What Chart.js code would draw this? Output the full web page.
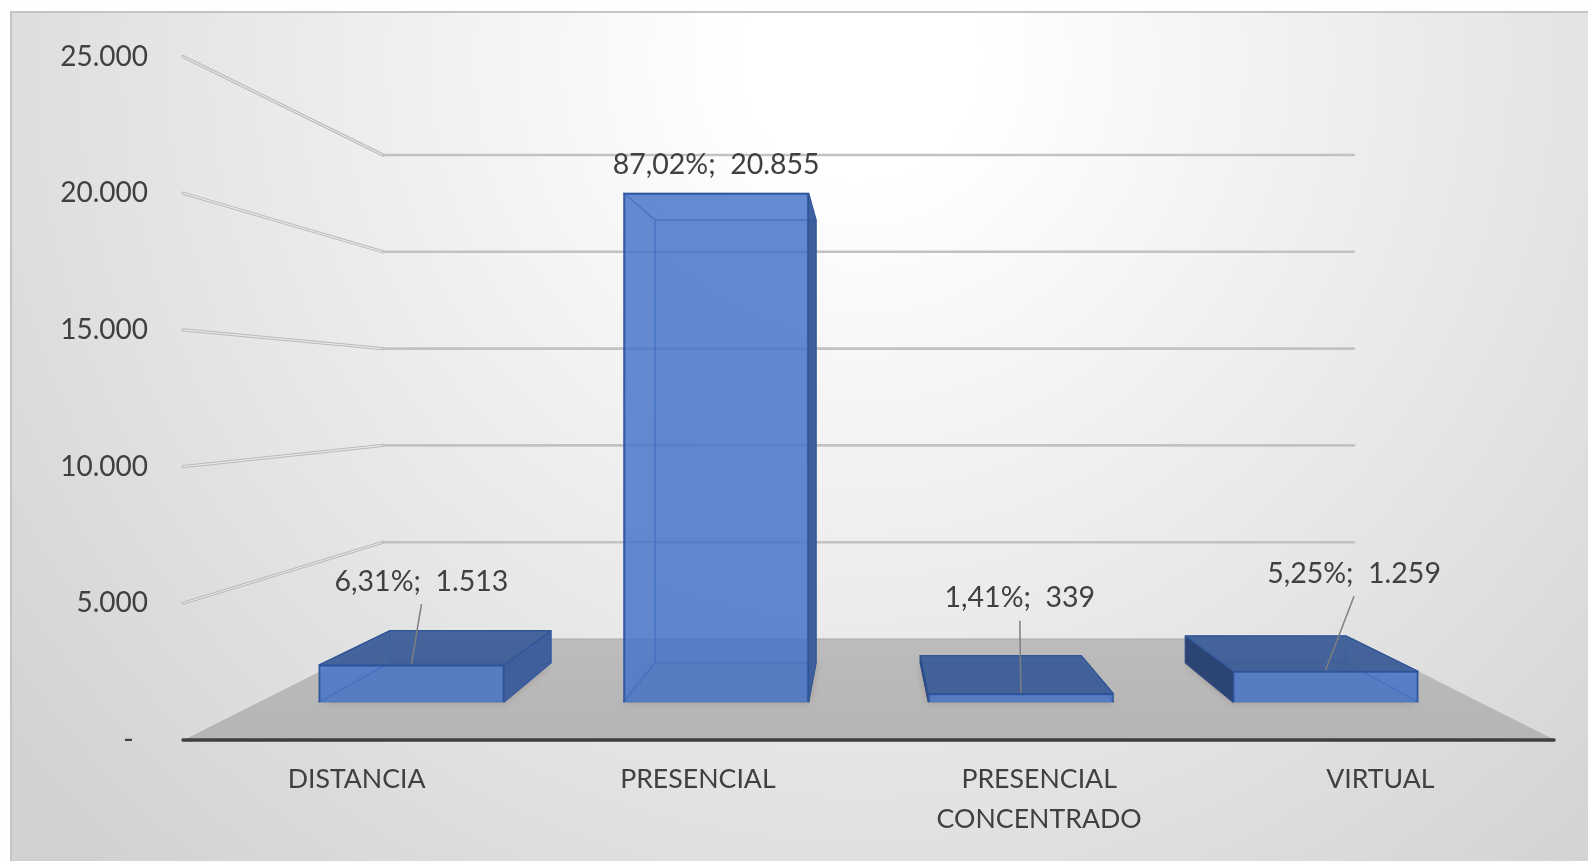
<!DOCTYPE html>
<html><head><meta charset="utf-8">
<style>html,body{margin:0;padding:0;background:#fdfefe;overflow:hidden}canvas{display:block}</style>
<script src="https://cdn.jsdelivr.net/npm/chart.js@4"></script>
</head><body><canvas id="c" width="1588" height="861"></canvas>
<script>
const categories = ['DISTANCIA','PRESENCIAL',['PRESENCIAL','CONCENTRADO'],'VIRTUAL'];
const values = [1513,20855,339,1259];
const percents = [6.31,87.02,1.41,5.25];
const axisTicks = [0,5000,10000,15000,20000,25000];

// Layout (pixels), separate from the data
const labelDx = [10,0,-1,28.5];
const labelDy = [-83.5,-28.5,-95.5,-97.5];
const hasLeader = [true,false,true,true];
const VP = {x:866,y:400};
const BACK = 0.87;
const AREA = {top:56.5,bottom:740,left:186,right:1551};
const FONT = 'Lato';
const TXT = '#404040';

const fmtInt = v => String(v).replace(/\B(?=(\d{3})+$)/g,'.');
const fmtPct = v => v.toFixed(2).replace('.',',')+'%';
const proj = (x,y,s)=>[VP.x+(x-VP.x)*s, VP.y+(y-VP.y)*s];
// range of a hidden value scale placing value 0 at pixel y0 with k pixels per unit
const rangeFor = (y0,k)=>({min:(y0-AREA.bottom)/k,max:(y0-AREA.top)/k});
const barRange = rangeFor(702,0.0244);
const wallRange = rangeFor(639,0.01936);

function quad(ctx,pts,fill,stroke,lw){
  ctx.beginPath();pts.forEach((p,i)=>i?ctx.lineTo(p[0],p[1]):ctx.moveTo(p[0],p[1]));ctx.closePath();
  if(fill){ctx.fillStyle=fill;ctx.fill();}
  if(stroke){ctx.strokeStyle=stroke;ctx.lineWidth=lw||1;ctx.lineJoin='round';ctx.stroke();}
}

const scene = {
  id:'scene',
  beforeDraw(chart){
    const {ctx,width,height}=chart;
    ctx.save();
    ctx.fillStyle='#fdfefe';ctx.fillRect(0,0,width,height);
    const g=ctx.createRadialGradient(860,60,0,860,60,1100);
    g.addColorStop(0,'#ffffff');g.addColorStop(0.11,'#ffffff');g.addColorStop(0.71,'#e1e1e1');g.addColorStop(1,'#d2d2d2');
    ctx.fillStyle=g;ctx.fillRect(12,13,width,height);
    ctx.fillStyle='#c4c4c4';ctx.fillRect(11,11,width,2);ctx.fillRect(10,11,2,height);
    ctx.restore();
  },
  beforeDatasetsDraw(chart){
    const {ctx,scales}=chart;
    const yT=scales.y,yW=scales.yWall;
    const L0=182,R0=1555,Lw=383,Rw=1354;
    ctx.save();
    // floor
    const base=yT.getPixelForValue(0),back=yW.getPixelForValue(0);
    const fg=ctx.createLinearGradient(0,back,0,base);
    fg.addColorStop(0,'#bcbcbc');fg.addColorStop(1,'#b5b5b5');
    quad(ctx,[[L0,base],[Lw,back],[Rw,back],[R0,base]],fg);
    ctx.strokeStyle='#e4e4e4';ctx.lineWidth=1.2;
    ctx.beginPath();ctx.moveTo(L0,base);ctx.lineTo(Lw,back);ctx.stroke();
    ctx.strokeStyle='#a9a9a9';ctx.lineWidth=1;
    ctx.beginPath();ctx.moveTo(Lw,back);ctx.lineTo(Rw,back);ctx.stroke();
    // grid
    axisTicks.filter(v=>v>0).forEach(v=>{
      const a=yT.getPixelForValue(v),b=yW.getPixelForValue(v);
      ctx.lineCap='round';
      ctx.strokeStyle='#bababa';ctx.lineWidth=3.2;
      ctx.beginPath();ctx.moveTo(183,a);ctx.lineTo(Lw,b);ctx.stroke();
      ctx.strokeStyle='#e6e6e6';ctx.lineWidth=1.2;
      ctx.beginPath();ctx.moveTo(183,a);ctx.lineTo(Lw,b);ctx.stroke();
      ctx.strokeStyle='#c2c2c2';ctx.lineWidth=2.6;
      ctx.beginPath();ctx.moveTo(Lw,b);ctx.lineTo(Rw,b);ctx.stroke();
    });
    // bar extrusion
    chart.getDatasetMeta(0).data.forEach(el=>{
      const l=el.x-el.width/2,r=el.x+el.width/2,t=el.y,b=el.base;
      const fl=[l,b],fr=[r,b],tl=[l,t],tr=[r,t];
      const bl=proj(l,b,BACK),br=proj(r,b,BACK),ul=proj(l,t,BACK),ur=proj(r,t,BACK);
      const edge='rgba(50,90,165,.6)';
      ctx.shadowColor='rgba(130,105,95,.5)';ctx.shadowBlur=9;
      quad(ctx,[fl,fr,br,bl],'rgba(178,170,165,1)');
      ctx.shadowBlur=0;ctx.shadowColor='transparent';
      quad(ctx,[bl,br,ur,ul],'rgba(68,115,200,.2)',edge,1.2);
      quad(ctx,[fl,fr,br,bl],'rgba(68,115,200,.15)',edge,1.2);
      if(l>VP.x) quad(ctx,[fl,tl,ul,bl],'#2c4474','#2c4a82',1);
      else quad(ctx,[fl,tl,ul,bl],'rgba(68,115,200,.12)',edge,1.2);
      if(r<VP.x) quad(ctx,[fr,tr,ur,br],'#3e5f9c','#2f5597',1);
      else quad(ctx,[fr,tr,ur,br],'rgba(68,115,200,.12)',edge,1.2);
      if(t>VP.y) quad(ctx,[tl,tr,ur,ul],'rgba(62,95,152,.95)','#2f5597',1.3);
      else quad(ctx,[tl,tr,ur,ul],'rgba(68,115,200,.12)',edge,1.2);
    });
    ctx.restore();
  },
  afterDatasetsDraw(chart){
    const {ctx,scales}=chart;
    const base=scales.y.getPixelForValue(0);
    ctx.save();
    ctx.strokeStyle='#3f3f3f';ctx.lineWidth=3.4;ctx.lineCap='round';
    ctx.beginPath();ctx.moveTo(183,base);ctx.lineTo(1554,base);ctx.stroke();
    ctx.font='28.5px '+FONT;ctx.fillStyle=TXT;ctx.textAlign='center';ctx.textBaseline='middle';
    chart.getDatasetMeta(0).data.forEach((el,i)=>{
      const lx=el.x+labelDx[i],ly=el.y+labelDy[i];
      if(hasLeader[i]){
        ctx.strokeStyle='#7f7f7f';ctx.lineWidth=1.5;ctx.lineCap='butt';
        ctx.beginPath();ctx.moveTo(lx,ly+22.5);ctx.lineTo(el.x,el.y-1);ctx.stroke();
      }
      ctx.fillText(fmtPct(percents[i])+';  '+fmtInt(values[i]),lx,ly);
    });
    ctx.restore();
  }
};

new Chart(document.getElementById('c'),{
  type:'bar',
  data:{labels:categories,datasets:[{
    data:values.map((v,i)=>({x:i,y:v})),
    xAxisID:'xBar',yAxisID:'yBar',
    backgroundColor:'rgba(68,115,200,.8)',borderColor:'#2f5597',borderWidth:1.5,
    barThickness:185
  }]},
  plugins:[scene],
  options:{
    responsive:false,animation:false,
    layout:{padding:{top:AREA.top,left:0,right:1588-AREA.right,bottom:0}},
    plugins:{legend:{display:false},tooltip:{enabled:false}},
    scales:{
      x:{type:'category',position:'bottom',grid:{display:false},border:{display:false},
        afterFit(s){s.height=861-AREA.bottom;},
        ticks:{autoSkip:false,maxRotation:0,minRotation:0,padding:11,color:TXT,font:{family:FONT,size:26.7,lineHeight:1.5}}},
      y:{type:'linear',position:'left',min:0,max:25000,grid:{display:false,drawTicks:false},border:{display:false},
        afterFit(s){s.width=AREA.left;},
        afterBuildTicks(s){s.ticks=axisTicks.map(v=>({value:v}));},
        ticks:{padding:38,color:TXT,font:{family:FONT,size:28},
          callback:v=>v===0?'-\u00a0\u00a0':fmtInt(v)}},
      xBar:{type:'linear',axis:'x',display:false,offset:false,min:-0.74,max:3.74},
      yBar:{type:'linear',axis:'y',display:false,min:barRange.min,max:barRange.max},
      yWall:{type:'linear',axis:'y',display:false,min:wallRange.min,max:wallRange.max}
    }
  }
});
</script></body></html>
